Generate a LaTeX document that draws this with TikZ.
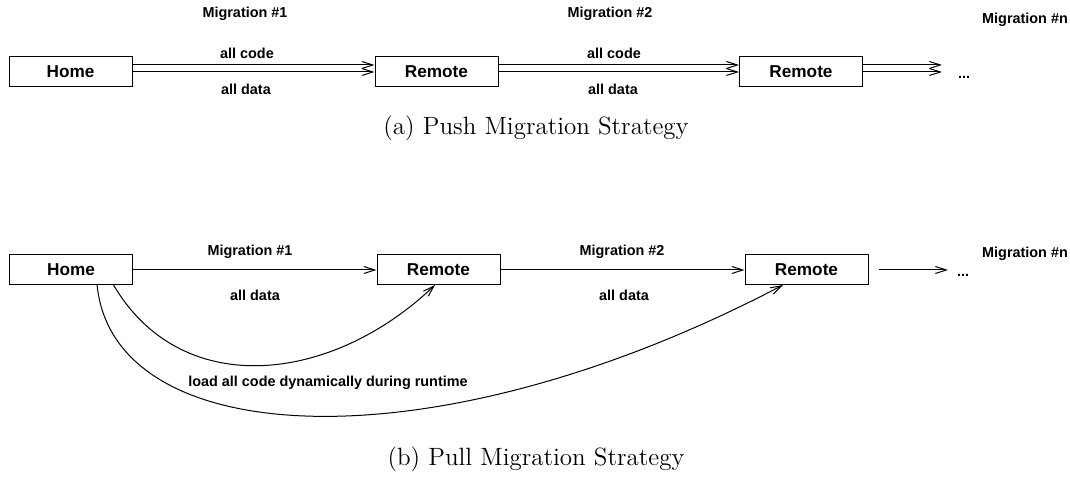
\documentclass[tikz,border=0pt]{standalone}
\usepackage{fontspec}
\setsansfont{Liberation Sans}
\usetikzlibrary{arrows.meta}
\begin{document}
\begin{tikzpicture}[x=0.5pt,y=-0.5pt,
  box/.style={draw, line width=0.5pt, minimum width=61.5pt, minimum height=15pt,
    inner sep=0pt, font=\sffamily\bfseries\fontsize{8.6}{10}\selectfont},
  lbl/.style={inner sep=0pt, font=\sffamily\bfseries\fontsize{7.2}{8.5}\selectfont},
  flow/.style={line width=0.5pt, -{Straight Barb[length=5.5pt,width=3.5pt]}},
  subcap/.style={inner sep=0pt, font=\fontsize{12.5}{14}\selectfont},
]
\useasboundingbox (0,0) rectangle (1070,491);

% ---------- (a) push migration ----------
\node[box] (ha)  at (70.5,72) {Home};
\node[box] (ra1) at (436.5,72) {Remote};
\node[box] (ra2) at (801,72) {Remote};
\coordinate (enda) at (942,72);
\node[lbl] (dotsa) at (964,77) {...};

% code and data travel together on every hop
\foreach \a/\b in {ha/ra1, ra1/ra2} {
  \draw[flow] ([yshift=3.5pt]\a.east) -- ([yshift=3.5pt]\b.west);
  \draw[flow] (\a.east) -- (\b.west);
}
\draw[flow] ([yshift=3.5pt]ra2.east) -- ([yshift=3.5pt]enda);
\draw[flow] (ra2.east) -- (enda);

\node[lbl] (ma1) at (245,14) {Migration \#1};
\node[lbl] (ca1) at (247,53) {all code};
\node[lbl] (da1) at (246,89) {all data};
\node[lbl] (ma2) at (610,14) {Migration \#2};
\node[lbl] (ca2) at (614,53) {all code};
\node[lbl] (da2) at (613,89) {all data};
\node[lbl] (man) at (1025,20) {Migration \#n};

\node[subcap] (capa) at (536,128) {(a) Push Migration Strategy};

% ---------- (b) pull migration ----------
\node[box] (hb)  at (71,270) {Home};
\node[box] (rb1) at (438.5,270) {Remote};
\node[box] (rb2) at (806.5,270) {Remote};
\coordinate (endb) at (948,270);
\node[lbl] (dotsb) at (963,275) {...};

\draw[flow] (hb.east) -- (rb1.west);
\draw[flow] (rb1.east) -- (rb2.west);
\draw[flow] ([xshift=5pt]rb2.east) -- (endb);

\node[lbl] (mb1) at (250,252) {Migration \#1};
\node[lbl] (db1) at (255,295) {all data};
\node[lbl] (mb2) at (622,252) {Migration \#2};
\node[lbl] (db2) at (624,295) {all data};
\node[lbl] (mbn) at (1025,254) {Migration \#n};

% code is fetched from home on demand
\coordinate (s1) at (113,284);
\coordinate (t1) at (435,285);
\coordinate (s2) at (97,284);
\coordinate (t2) at (783,285);
\draw[flow] (s1) .. controls (180,400) and (330,385) .. (t1);
\draw[flow] (s2) .. controls (112,450) and (430,470) .. (t2);
\node[lbl] (load) at (328,383) {load all code dynamically during runtime};

\node[subcap] (capb) at (536,459) {(b) Pull Migration Strategy};
\end{tikzpicture}
\end{document}
